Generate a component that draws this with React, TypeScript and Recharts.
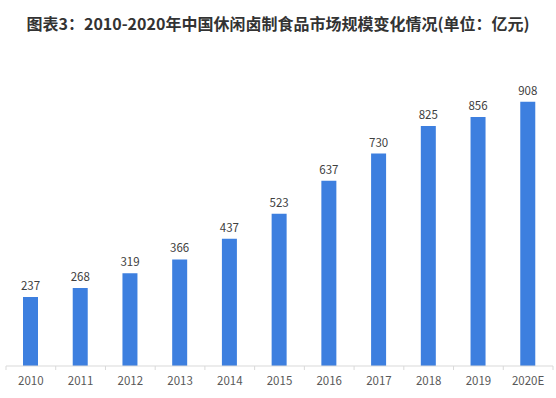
import React from "react";
import { BarChart, Bar, XAxis, YAxis, LabelList } from "recharts";

const years = ["2010", "2011", "2012", "2013", "2014", "2015", "2016", "2017", "2018", "2019", "2020E"];
const marketSize = [237, 268, 319, 366, 437, 523, 637, 730, 825, 856, 908];
const title = "图表3：2010-2020年中国休闲卤制食品市场规模变化情况(单位：亿元)";

const data = years.map((year, i) => ({ year, value: marketSize[i] }));

const W = 556;
const H = 398;
const LEFT = 6;
const RIGHT = 3;
const BAND = (W - LEFT - RIGHT) / years.length;

const Tick = (props: any) => {
  const { x, y, payload, index } = props;
  return (
    <g>
      <line x1={x - BAND / 2} y1={y - 8} x2={x - BAND / 2} y2={y - 4} stroke="#d9d9d9" />
      {index === years.length - 1 && (
        <line x1={x + BAND / 2} y1={y - 8} x2={x + BAND / 2} y2={y - 4} stroke="#d9d9d9" />
      )}
      <text x={x} y={y + 11} textAnchor="middle" fontSize={11.5} fill="#595959" fontFamily="'Noto Sans CJK SC', sans-serif">
        {payload.value}
      </text>
    </g>
  );
};

export default function App() {
  return (
    <div style={{ position: "absolute", left: 0, top: 0, width: W, height: H, background: "#fff" }}>
      <div
        style={{
          position: "absolute",
          left: 0,
          top: 11,
          width: W,
          textAlign: "center",
          fontFamily: "'Noto Sans CJK SC', sans-serif",
          fontWeight: 700,
          fontSize: 16,
          color: "#333",
          lineHeight: "24px",
          whiteSpace: "nowrap",
        }}
      >
        {title}
      </div>
      <BarChart width={W} height={H} data={data} margin={{ top: 75, right: RIGHT, bottom: 0, left: LEFT }} barCategoryGap="35%">
        <XAxis
          dataKey="year"
          axisLine={{ stroke: "#d9d9d9" }}
          tickLine={false}
          height={32}
          interval={0}
          tick={<Tick />}
        />
        <YAxis hide domain={[0, 1000]} />
        <Bar dataKey="value" fill="#3d7fdf" isAnimationActive={false} barSize={15}>
          <LabelList
            dataKey="value"
            position="top"
            offset={7}
            fontSize={11.5}
            fill="#404040"
            fontFamily="'Noto Sans CJK SC', sans-serif"
          />
        </Bar>
      </BarChart>
    </div>
  );
}
